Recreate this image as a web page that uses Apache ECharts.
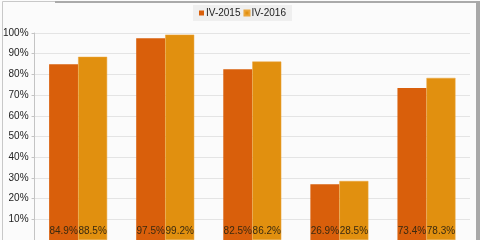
<!DOCTYPE html>
<html><head><meta charset="utf-8">
<script src="https://cdn.jsdelivr.net/npm/echarts@6/dist/echarts.min.js"></script>
<style>html,body{margin:0;padding:0;background:#fff}#c{width:480px;height:240px}</style>
</head><body><div id="c"></div>
<script>
const categories = ['Cat 1', 'Cat 2', 'Cat 3', 'Cat 4', 'Cat 5'];
const seriesNames = ['IV-2015', 'IV-2016'];
const values2015 = [84.9, 97.5, 82.5, 26.9, 73.4];
const values2016 = [88.5, 99.2, 86.2, 28.5, 78.3];
const colors = ['#D95F0B', '#E1900F'];

const chart = echarts.init(document.getElementById('c'));
const labelCfg = {
  show: true, position: 'insideBottom', distance: 4,
  formatter: p => p.value.toFixed(1) + '%',
  color: '#3a2a10', fontSize: 10, fontFamily: 'Liberation Sans'
};
chart.setOption({
  animation: false,
  backgroundColor: '#fbfbfb',
  textStyle: { fontFamily: 'Liberation Sans' },
  graphic: [
    { type: 'rect', shape: { x: 2.5, y: 1.5, width: 475, height: 245 }, style: { fill: null, stroke: '#c8c8c8', lineWidth: 1 }, silent: true, z: -1 },
    { type: 'rect', shape: { x: 55, y: 1, width: 425, height: 2 }, style: { fill: '#aaa' }, silent: true },
    { type: 'rect', shape: { x: 476, y: 1, width: 4, height: 239 }, style: { fill: '#a8a8a8' }, silent: true }
  ],
  legend: {
    data: seriesNames,
    top: 5, left: 193,
    backgroundColor: '#efefef',
    padding: [3, 6, 3, 6],
    itemWidth: 5, itemHeight: 5, itemGap: 3,
    icon: 'rect',
    textStyle: { fontSize: 10, color: '#222', padding: [0, 0, 0, -3] }
  },
  grid: { left: 34, right: 10, top: 33, bottom: -4.5, containLabel: false },
  xAxis: {
    type: 'category', data: categories,
    axisLine: { show: false }, axisTick: { show: false }, axisLabel: { show: false }
  },
  yAxis: {
    type: 'value', min: 0, max: 100, interval: 10,
    axisLine: { show: true, lineStyle: { color: '#c4c4c4' } },
    axisTick: { show: true, length: 3, lineStyle: { color: '#c4c4c4' } },
    axisLabel: { formatter: v => v === 0 ? '' : v + '%', fontSize: 10, color: '#222', margin: 6 },
    splitLine: { lineStyle: { color: '#e4e4e4' } }
  },
  series: [
    { name: seriesNames[0], type: 'bar', data: values2015, barWidth: 29, barGap: '0%',
      itemStyle: { color: colors[0] }, label: labelCfg },
    { name: seriesNames[1], type: 'bar', data: values2016, barWidth: 29, barGap: '0%',
      itemStyle: { color: colors[1], borderColor: '#EBA53A', borderWidth: 0.5 }, label: labelCfg }
  ]
});
</script></body></html>
